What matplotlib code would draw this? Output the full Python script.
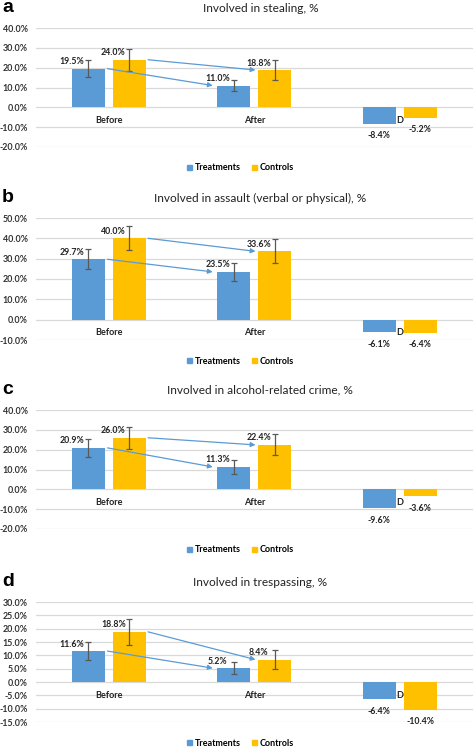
import matplotlib
matplotlib.use('Agg')
import matplotlib.pyplot as plt
from matplotlib.patches import Patch
import numpy as np

# datos
categorias = ['Before', 'After', 'D']
letras = ['a', 'b', 'c', 'd']
titulos = ['Involved in stealing, %',
           'Involved in assault (verbal or physical), %',
           'Involved in alcohol-related crime, %',
           'Involved in trespassing, %']

treat_a = [19.5, 11.0, -8.4]
ctrl_a = [24.0, 18.8, -5.2]
treat_err_a = [4.3, 3.0]
ctrl_err_a = [5.5, 5.0]

treat_b = [29.7, 23.5, -6.1]
ctrl_b = [40.0, 33.6, -6.4]
treat_err_b = [4.9, 4.5]
ctrl_err_b = [5.9, 5.9]

treat_c = [20.9, 11.3, -9.6]
ctrl_c = [26.0, 22.4, -3.6]
treat_err_c = [4.4, 3.4]
ctrl_err_c = [5.6, 5.3]

treat_d = [11.6, 5.2, -6.4]
ctrl_d = [18.8, 8.4, -10.4]
treat_err_d = [3.3, 2.2]
ctrl_err_d = [5.0, 3.5]

yticks_a = [-20, -10, 0, 10, 20, 30, 40]
yticks_b = [-10, 0, 10, 20, 30, 40, 50]
yticks_c = [-20, -10, 0, 10, 20, 30, 40]
yticks_d = [-15, -10, -5, 0, 5, 10, 15, 20, 25, 30]

paneles = [
    (treat_a, ctrl_a, treat_err_a, ctrl_err_a, yticks_a),
    (treat_b, ctrl_b, treat_err_b, ctrl_err_b, yticks_b),
    (treat_c, ctrl_c, treat_err_c, ctrl_err_c, yticks_c),
    (treat_d, ctrl_d, treat_err_d, ctrl_err_d, yticks_d),
]

azul = '#5B9BD5'
amarillo = '#FFC000'
gris = '#595959'
fuente = 'Lato'

W, H = 473, 747
fig = plt.figure(figsize=(W / 100, H / 100), dpi=100)

# posiciones de los ejes (px desde arriba)
tops = [28, 218, 410, 602]
bottoms = [147, 340, 529, 722]
left, right = 36, 472.5

x = np.arange(len(categorias))
ancho = 0.227
off = 0.142

for i, (treat, ctrl, terr, cerr, yt) in enumerate(paneles):
    ax = fig.add_axes([left / W, 1 - bottoms[i] / H, (right - left) / W,
                       (bottoms[i] - tops[i]) / H])
    ax.bar(x - off, treat, ancho, color=azul, zorder=3)
    ax.bar(x + off, ctrl, ancho, color=amarillo, zorder=3)
    ax.errorbar(x[:2] - off, treat[:2], yerr=terr, fmt='none', ecolor=gris,
                elinewidth=0.9, capsize=2.5, capthick=0.9, zorder=4)
    ax.errorbar(x[:2] + off, ctrl[:2], yerr=cerr, fmt='none', ecolor=gris,
                elinewidth=0.9, capsize=2.5, capthick=0.9, zorder=4)

    ax.set_xlim(-0.5, 2.5)
    ax.set_ylim(yt[0], yt[-1])
    ax.set_yticks(yt)
    ax.set_yticklabels(['%.1f%%' % v for v in yt], fontsize=6.4,
                       fontweight='bold', family=fuente, color='#333333')
    ax.tick_params(axis='y', length=0, pad=6)
    ax.set_xticks([])
    ax.grid(axis='y', color='#d9d9d9', lw=0.9, zorder=0)
    for s in ax.spines.values():
        s.set_visible(False)

    # etiquetas de categoria junto al eje 0
    for xi, cat in zip(x, categorias):
        ax.annotate(cat, (xi, 0), xytext=(0, -13), textcoords='offset pixels',
                    ha='center', va='center', fontsize=6.6, fontweight='bold',
                    family=fuente, color='#222222', zorder=5)

    # etiquetas de valores
    for serie, dx in [(treat, -off), (ctrl, off)]:
        for xi, v in zip(x, serie):
            if v >= 0:
                xy_off = (-16, 7)
            else:
                xy_off = (0, -12)
            ax.annotate('%.1f%%' % v, (xi + dx, v), xytext=xy_off,
                        textcoords='offset pixels', ha='center', va='center',
                        fontsize=6.3, fontweight='bold', family=fuente,
                        color='#222222', zorder=6)

    # flechas antes -> despues
    ax.annotate('', xy=(x[1] - off - ancho / 2 - 0.03, treat[1]),
                xytext=(x[0] - off + ancho / 2 + 0.02, treat[0]),
                arrowprops=dict(arrowstyle='-|>', color=azul, lw=0.9,
                                mutation_scale=7, shrinkA=0, shrinkB=0),
                zorder=6)
    ax.annotate('', xy=(x[1] + off - ancho / 2 - 0.02, ctrl[1]),
                xytext=(x[0] + off + ancho / 2 + 0.015, ctrl[0]),
                arrowprops=dict(arrowstyle='-|>', color=azul, lw=0.9,
                                mutation_scale=7, shrinkA=0, shrinkB=0),
                zorder=6)

    # titulo y letra del panel
    ax.annotate(titulos[i], (0.514, 1), xycoords='axes fraction',
                xytext=(0, 20), textcoords='offset pixels', ha='center',
                va='center', fontsize=8.6, family=fuente, color='#222222')
    fig.text(2 / W, 1 - (tops[i] - 16) / H, letras[i], fontsize=14,
             fontweight='bold', family='Liberation Sans', va='baseline',
             ha='left')

    # leyenda
    handles = [Patch(color=azul, label='Treatments'),
               Patch(color=amarillo, label='Controls')]
    ax.legend(handles=handles, loc='center', ncol=2, frameon=False,
              bbox_to_anchor=(0.468, -21 / (bottoms[i] - tops[i])),
              handlelength=0.55, handleheight=0.55, handletextpad=0.3,
              columnspacing=1.2,
              prop={'family': fuente, 'weight': 'bold', 'size': 6.5})

fig.savefig('out.png', dpi=100)
